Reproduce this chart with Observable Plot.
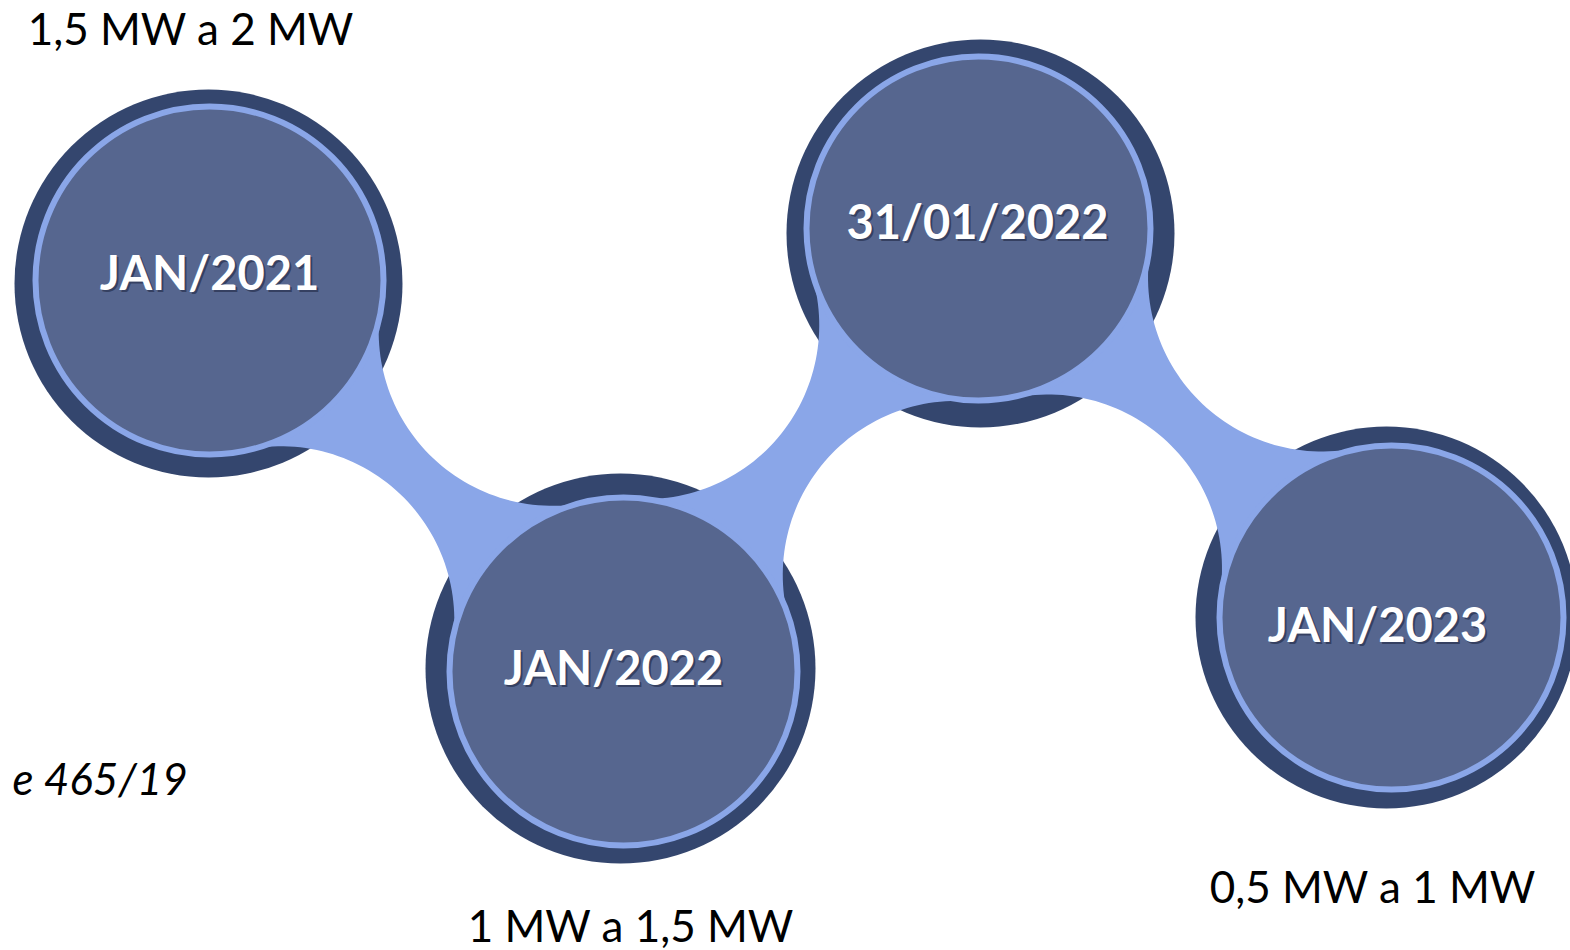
<!DOCTYPE html>
<html>
<head>
<meta charset="utf-8">
<script src="https://cdn.jsdelivr.net/npm/d3@7"></script>
<script src="https://cdn.jsdelivr.net/npm/@observablehq/plot@0.6"></script>
<style>
  html, body { margin: 0; padding: 0; background: #ffffff; overflow: hidden; }
  #chart { width: 1570px; height: 950px; }
</style>
</head>
<body>
<div id="chart"></div>
<script>
// ---- data ----
const milestones = ["JAN/2021", "JAN/2022", "31/01/2022", "JAN/2023"];
const outerX = [208, 620, 980, 1386];
const outerY = [283, 668, 233, 617];
const outerR = [194, 195, 194, 191];
const ringX = [209, 623, 978, 1391];
const ringY = [280, 671, 228, 617];
const ringR = [174, 174, 172, 172];
const labelX = [209, 613, 977, 1377];
const labelY = [289, 684, 238, 641];

const capacityLabels = ["1,5 MW a 2 MW", "1 MW a 1,5 MW", "0,5 MW a 1 MW"];
const capacityX = [190, 630, 1372];
const capacityY = [44, 941, 902];

const noteLabels = ["e 465/19"];
const noteX = [12];
const noteY = [794];

const linkRadius = 173; // radius at which the connectors meet the circles
const gapRadius = 174;  // radius of the concave cut-outs of the connectors

// ---- derived tables ----
const nodes = milestones.map((m, i) => ({
  label: m, ox: outerX[i], oy: outerY[i], or: outerR[i],
  rx: ringX[i], ry: ringY[i], rr: ringR[i], lx: labelX[i], ly: labelY[i]
}));

function connector(i) {
  const A = nodes[i], B = nodes[i + 1];
  const ax = A.rx, ay = A.ry, bx = B.rx, by = B.ry;
  const dx = bx - ax, dy = by - ay, d = Math.hypot(dx, dy);
  const ux = dx / d, uy = dy / d, vx = -uy, vy = ux;
  const da = linkRadius + gapRadius, db = linkRadius + gapRadius;
  const along = (da * da - db * db + d * d) / (2 * d);
  const h = Math.sqrt(Math.max(0, da * da - along * along));
  const pts = [];
  const arc = (px, py, sx, sy, ex, ey) => {
    let a0 = Math.atan2(sy - py, sx - px), a1 = Math.atan2(ey - py, ex - px);
    let diff = a1 - a0;
    while (diff > Math.PI) diff -= 2 * Math.PI;
    while (diff < -Math.PI) diff += 2 * Math.PI;
    const n = 60;
    for (let k = 0; k <= n; k++) {
      const a = a0 + diff * k / n;
      pts.push({id: i, x: px + gapRadius * Math.cos(a), y: py + gapRadius * Math.sin(a)});
    }
  };
  const gaps = [1, -1].map(s => ({x: ax + along * ux + s * h * vx, y: ay + along * uy + s * h * vy}));
  const tan = (cx, cy, p) => {
    const l = Math.hypot(p.x - cx, p.y - cy);
    return {x: cx + linkRadius * (p.x - cx) / l, y: cy + linkRadius * (p.y - cy) / l};
  };
  const g1 = gaps[0], g2 = gaps[1];
  const ta1 = tan(ax, ay, g1), tb1 = tan(bx, by, g1);
  const ta2 = tan(ax, ay, g2), tb2 = tan(bx, by, g2);
  pts.push({id: i, x: ax, y: ay});
  arc(g1.x, g1.y, ta1.x, ta1.y, tb1.x, tb1.y);
  pts.push({id: i, x: bx, y: by});
  arc(g2.x, g2.y, tb2.x, tb2.y, ta2.x, ta2.y);
  pts.push({id: i, x: ax, y: ay});
  return pts;
}
const links = d3.range(nodes.length - 1).flatMap(connector);

const capacity = capacityLabels.map((t, i) => ({t, x: capacityX[i], y: capacityY[i]}));
const notes = noteLabels.map((t, i) => ({t, x: noteX[i], y: noteY[i]}));

const chart = Plot.plot({
  width: 1570,
  height: 950,
  margin: 0,
  x: {domain: [0, 1570], range: [0, 1570], axis: null},
  y: {domain: [0, 950], range: [0, 950], axis: null},
  r: {type: "identity"},
  style: {background: "#ffffff", fontFamily: "Lato, 'Open Sans', sans-serif"},
  marks: [
    Plot.dot(nodes, {x: "ox", y: "oy", r: "or", fill: "#34466e", stroke: "none", clip: true}),
    Plot.line(links, {x: "x", y: "y", z: "id", fill: "#8aa6e8", stroke: "none", curve: "linear"}),
    Plot.dot(nodes, {x: "rx", y: "ry", r: "rr", fill: "#56668f", stroke: "#8aa6e8", strokeWidth: 6, clip: true}),
    Plot.text(nodes, {x: "lx", y: "ly", text: "label", dx: 2, dy: 2, lineAnchor: "bottom", textAnchor: "middle",
      fill: "#26304d", fillOpacity: 0.7, fontSize: 47, fontWeight: "bold", fontFamily: "Lato"}),
    Plot.text(nodes, {x: "lx", y: "ly", text: "label", lineAnchor: "bottom", textAnchor: "middle",
      fill: "#ffffff", fontSize: 47, fontWeight: "bold", fontFamily: "Lato"}),
    Plot.text(capacity, {x: "x", y: "y", text: "t", lineAnchor: "bottom", textAnchor: "middle",
      fill: "#000000", fontSize: 44, fontFamily: "Lato"}),
    Plot.text(notes, {x: "x", y: "y", text: "t", lineAnchor: "bottom", textAnchor: "start",
      fill: "#000000", fontSize: 44, fontStyle: "italic", fontFamily: "Lato"})
  ]
});
document.getElementById("chart").appendChild(chart);
</script>
</body>
</html>
